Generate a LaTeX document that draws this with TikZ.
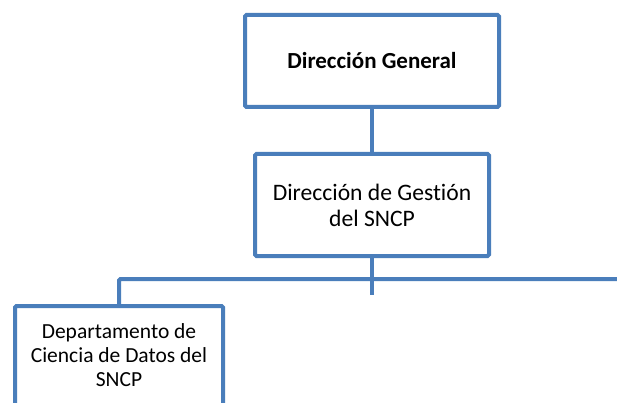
\documentclass[tikz,border=0pt]{standalone}
\usepackage{fontspec}
\setmainfont{Carlito}[Ligatures=NoCommon]
\usetikzlibrary{positioning}
\definecolor{orgblue}{RGB}{74,126,187}
\tikzset{
  unit/.style={draw=orgblue, line width=4pt, rounded corners=1.5pt, fill=white, align=center, inner sep=0pt},
  link/.style={draw=orgblue, line width=4pt},
}

\begin{document}
\begin{tikzpicture}[x=1pt, y=-1pt]
  \useasboundingbox (0,0) rectangle (617,403);

  % boxes
  \node[unit, minimum width=254pt, minimum height=92pt, font=\fontsize{23}{28}\selectfont\bfseries] (dg) at (372,61) {Dirección General};
  \node[unit, minimum width=234pt, minimum height=102pt, font=\fontsize{23.6}{26}\selectfont] (dgs) at (372,205) {Dirección de Gestión\\del SNCP};
  \node[unit, anchor=north, minimum width=208pt, minimum height=130pt] (dcd) at (119,304) {};
  \node[align=center, anchor=north, inner sep=0pt, font=\fontsize{21.5}{24}\selectfont, below=19pt of dcd.north] (dcdtext) {Departamento de\\Ciencia de Datos del\\SNCP};

  % connectors
  \coordinate (busend) at (625,279);
  \coordinate (stub) at (372,295);
  \draw[link] (dg.south) -- (dgs.north);
  \draw[link] (dgs.south) -- (stub);
  \draw[link, rounded corners=1.5pt] (dcd.north) |- (busend);
\end{tikzpicture}
\end{document}
